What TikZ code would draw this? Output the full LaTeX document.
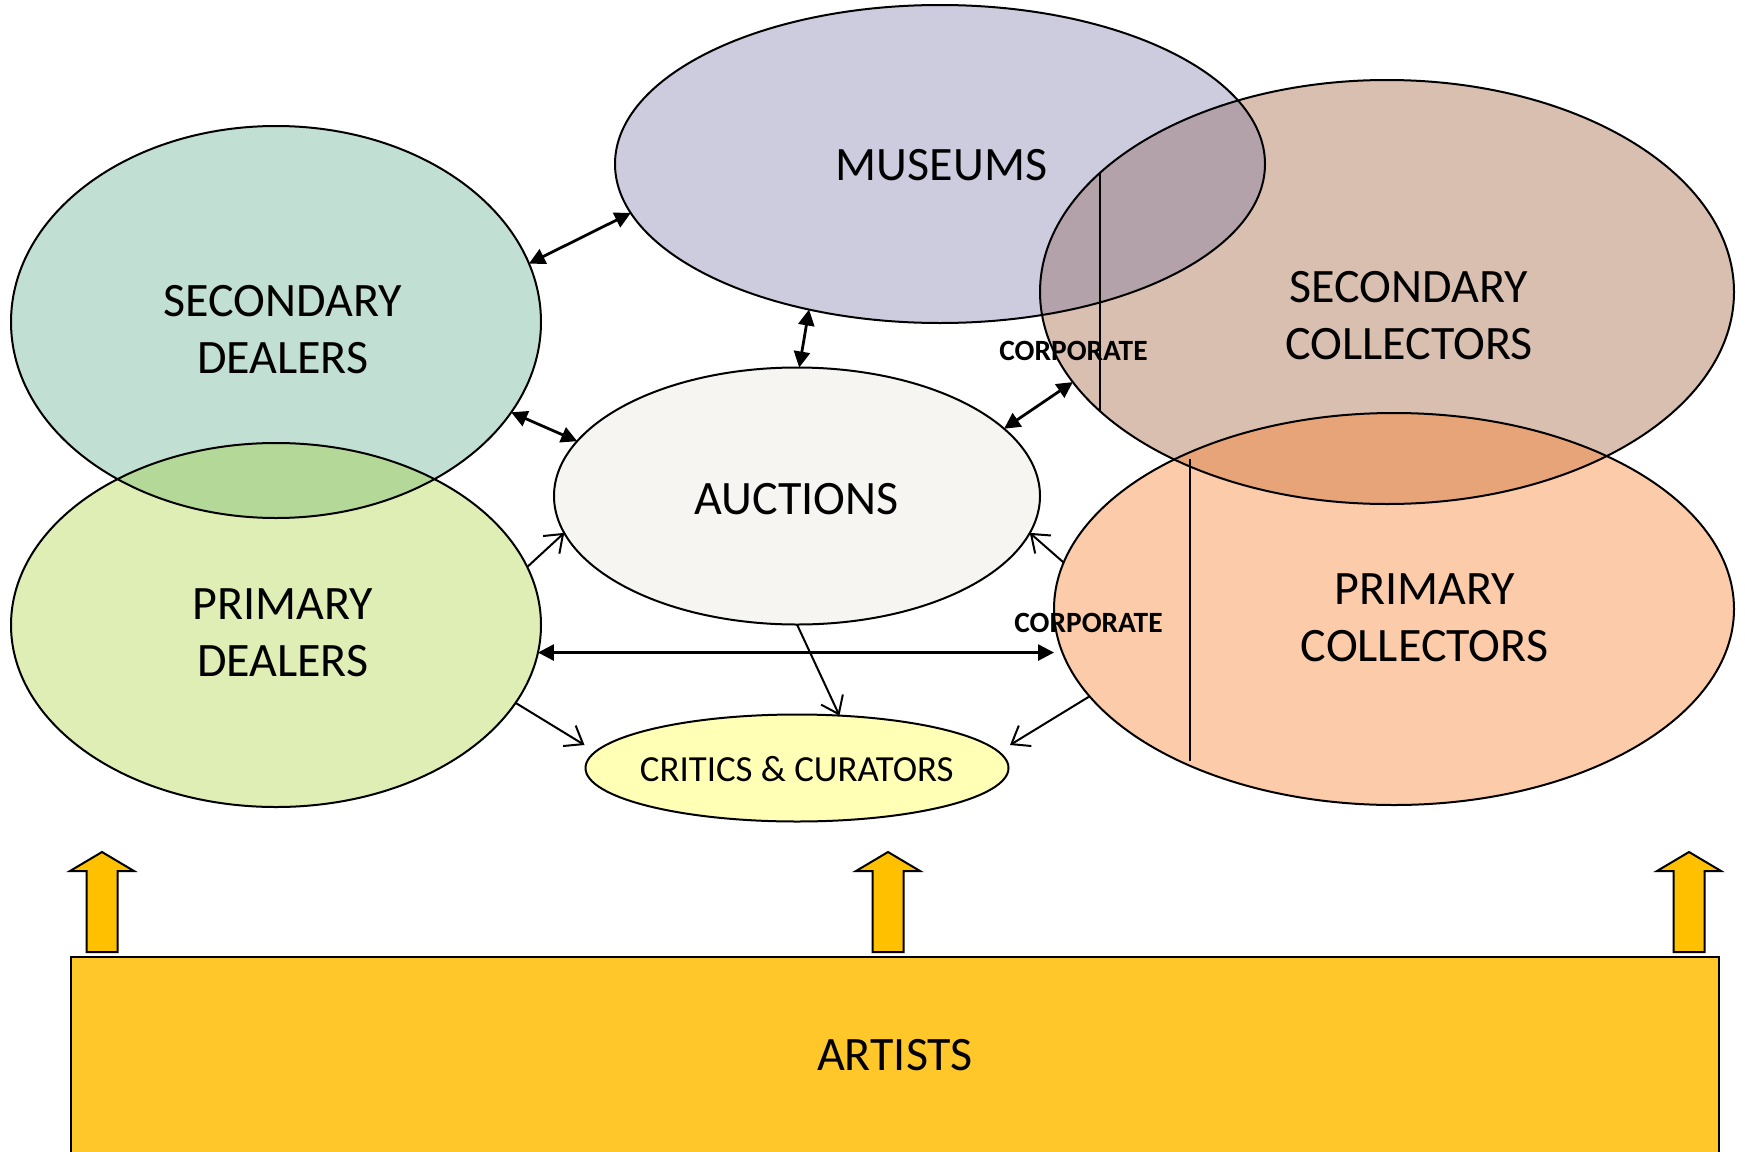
\documentclass[tikz,border=0pt]{standalone}
\usepackage{fontspec}
\setmainfont{Carlito}
\usetikzlibrary{shapes.geometric,arrows.meta,calc}

\definecolor{musC}{HTML}{CDCCDF}
\definecolor{sdC}{HTML}{C2DFD3}
\definecolor{pdC}{HTML}{DFEEB5}
\definecolor{dealOv}{HTML}{B3D898}
\definecolor{scC}{HTML}{D9BFB0}
\definecolor{musScOv}{HTML}{B3A2AA}
\definecolor{pcC}{HTML}{FCCBAA}
\definecolor{colOv}{HTML}{E6A478}
\definecolor{aucC}{HTML}{F6F5F1}
\definecolor{ccC}{HTML}{FFFFB5}
\definecolor{artC}{HTML}{FFC72A}
\definecolor{upC}{HTML}{FFC000}

\tikzset{
  blob/.style={ellipse, inner sep=0pt, outer sep=0pt, draw=none},
  rim/.style={draw=black, line width=1pt},
  lbl/.style={font=\fontsize{24}{28.5}\selectfont, align=center, inner sep=0pt},
  smalllbl/.style={font=\fontsize{18.4}{21}\selectfont, inner sep=0pt},
  corp/.style={font=\fontsize{14.7}{17}\selectfont\bfseries, inner sep=0pt},
  dbl/.style={line width=1.4pt, {Triangle[length=8pt,width=8pt]}-{Triangle[length=8pt,width=8pt]}},
  one/.style={line width=1pt, -{Straight Barb[length=8pt,width=12pt]}},
  uparrow/.style={fill=upC, draw=black, line width=1pt, line join=miter},
}

\begin{document}
\begin{tikzpicture}[x=0.5pt, y=-0.5pt]
\useasboundingbox (0,0) rectangle (1745,1151);
\clip (0,0) rectangle (1745,1151);

% filled ellipses
\node[blob, fill=pdC, minimum width=265pt, minimum height=182pt] (pd) at (276,625) {};
\node[blob, fill=sdC, minimum width=265pt, minimum height=196pt] (sd) at (276,322) {};
\node[blob, fill=musC, minimum width=325pt, minimum height=159pt] (mus) at (940,164) {};
\node[blob, fill=scC, minimum width=347pt, minimum height=212pt] (sc) at (1387,292) {};
\node[blob, fill=pcC, minimum width=340pt, minimum height=196pt] (pc) at (1394,609) {};
\node[blob, fill=aucC, minimum width=243pt, minimum height=128.5pt] (auc) at (797,496) {};
\node[blob, fill=ccC, minimum width=211.5pt, minimum height=53.5pt] (cc) at (797,768) {};

% overlaps
\begin{scope}
  \clip (276,322) ellipse [x radius=132.5pt, y radius=98pt];
  \fill[dealOv] (276,625) ellipse [x radius=132.5pt, y radius=91pt];
\end{scope}
\begin{scope}
  \clip (940,164) ellipse [x radius=162.5pt, y radius=79.5pt];
  \fill[musScOv] (1387,292) ellipse [x radius=173.5pt, y radius=106pt];
\end{scope}
\begin{scope}
  \clip (1387,292) ellipse [x radius=173.5pt, y radius=106pt];
  \fill[colOv] (1394,609) ellipse [x radius=170pt, y radius=98pt];
\end{scope}

% outlines
\draw[rim] (276,625) ellipse [x radius=132.5pt, y radius=91pt];
\draw[rim] (276,322) ellipse [x radius=132.5pt, y radius=98pt];
\draw[rim] (940,164) ellipse [x radius=162.5pt, y radius=79.5pt];
\draw[rim] (1387,292) ellipse [x radius=173.5pt, y radius=106pt];
\draw[rim] (1394,609) ellipse [x radius=170pt, y radius=98pt];
\draw[rim] (797,496) ellipse [x radius=121.5pt, y radius=64.25pt];
\draw[rim] (797,768) ellipse [x radius=105.75pt, y radius=26.75pt];

% dividing lines in collectors
\draw[line width=1.1pt] (1100,173) -- (1100,411);
\draw[line width=1.1pt] (1190,459) -- (1190,761);

% connectors
\draw[dbl] (sd.13.3) -- (mus.189.7);
\draw[dbl] (mus.228.1) -- (auc.89.6);
\draw[dbl] (sd.-21.5) -- (auc.166.9);
\draw[dbl] (auc.18.3) -- (sc.196.1);
\draw[dbl] (pd.-6.5) -- (pd.-6.5 -| pc.west);
\draw[one] (pd.13.7) -- (auc.189.75);
\draw[one] (pc.172.1) -- (auc.-9.75);
\draw[one] (auc.270) -- (cc.51.3);
\draw[one] (pd.-18) -- ($(cc.west)+(-1,-23)$);
\draw[one] (pc.196.5) -- ($(cc.east)+(1.5,-23)$);

% labels
\node[lbl] (musT) at (941.5,164.7) {MUSEUMS};
\node[lbl] (sdT) at (282.7,330) {SECONDARY\\DEALERS};
\node[lbl] (pdT) at (282.7,632.7) {PRIMARY\\DEALERS};
\node[lbl] (aucT) at (796.8,498.6) {AUCTIONS};
\node[lbl] (scT) at (1409,315.6) {SECONDARY\\COLLECTORS};
\node[lbl] (pcT) at (1424.5,617.7) {PRIMARY\\COLLECTORS};
\node[smalllbl] (ccT) at (796.8,769) {CRITICS \& CURATORS};
\node[corp] (corp1) at (1073.5,351) {CORPORATE};
\node[corp] (corp2) at (1088.5,623) {CORPORATE};

% artists block
\node[draw=black, line width=0.8pt, fill=artC, minimum width=824pt, minimum height=98pt, inner sep=0pt, font=\fontsize{24}{28.5}\selectfont] (art) at (895,1055) {ARTISTS};

% block up arrows
\foreach \cx in {102,888,1689}{
  \draw[uparrow] (\cx-15.5,952) -- (\cx-15.5,871) -- (\cx-32,871) -- (\cx,852) -- (\cx+32,871) -- (\cx+15.5,871) -- (\cx+15.5,952) -- cycle;
}
\end{tikzpicture}
\end{document}
